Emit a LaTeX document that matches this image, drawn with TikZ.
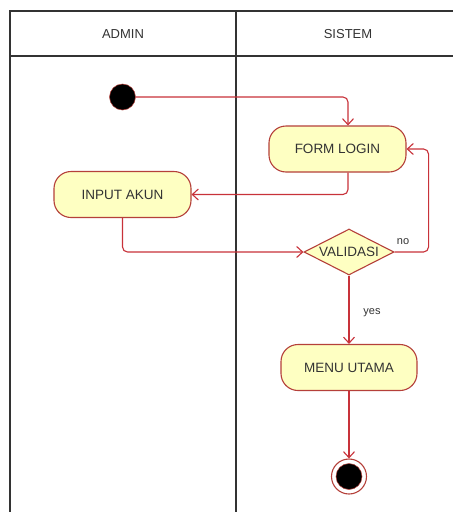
\documentclass[tikz,border=0pt]{standalone}
\usepackage{fontspec}
\setmainfont{Liberation Sans}
\usetikzlibrary{shapes.geometric,arrows.meta}
\definecolor{actfill}{HTML}{FEFFC2}
\definecolor{actline}{HTML}{B5403A}
\definecolor{flow}{HTML}{C8323A}
\definecolor{txt}{HTML}{333333}
\tikzset{
  act/.style={draw=actline, fill=actfill, rounded corners=17pt, line width=1.1pt,
    minimum height=46pt, inner sep=0pt, text=txt, font=\fontsize{13.5}{15}\selectfont},
  dec/.style={draw=actline, fill=actfill, diamond, line width=1.1pt, aspect=1.95,
    minimum width=90pt, minimum height=46pt, inner sep=0pt, text=txt, font=\fontsize{13.5}{15}\selectfont},
  flowline/.style={draw=flow, line width=1.1pt, rounded corners=5pt,
    -{Straight Barb[length=6pt,width=11pt,line width=1.1pt]}},
  lbl/.style={text=txt, font=\fontsize{11}{13}\selectfont},
  lane/.style={draw=black!80, line width=1.3pt},
  hdr/.style={text=txt, font=\fontsize{13}{15}\selectfont}
}
\begin{document}
\begin{tikzpicture}[x=1pt,y=-1pt]
\useasboundingbox (0,0) rectangle (453,512);
\fill[white] (0,0) rectangle (453,512);
% swimlanes
\draw[lane] (10,530) -- (10,11) -- (460,11);
\draw[lane] (10,56) -- (460,56);
\draw[lane] (236,11) -- (236,530);
\node[hdr] (hadmin) at (123,34) {ADMIN};
\node[hdr] (hsistem) at (348,34) {SISTEM};
% nodes
\node[circle, fill=black, draw=actline, line width=0.5pt, minimum size=26pt, inner sep=0pt] (start) at (122.5,97) {};
\node[act, minimum width=137pt] (form) at (337.5,149) {FORM LOGIN};
\node[act, minimum width=137pt] (input) at (122.5,194.5) {INPUT AKUN};
\node[dec] (val) at (349,252) {VALIDASI};
\node[act, minimum width=136pt] (menu) at (349,367.5) {MENU UTAMA};
\node[circle, draw=actline, fill=white, line width=1.1pt, minimum size=35pt, inner sep=0pt] (endo) at (349,476.5) {};
\node[circle, fill=black, draw=actline, line width=0.5pt, minimum size=26pt, inner sep=0pt] (endi) at (349,476.5) {};
% connectors
\draw[flowline] (start.east) -| (form.north -| 348,0);
\draw[flowline] (form.south -| 348,0) |- (input.east);
\draw[flowline] (input.south) |- (val.west);
\draw[flowline] (val.east) -- ++(34,0) |- (form.east);
\draw[flowline] (val.south) -- (menu.north);
\draw[flowline] (menu.south) -- (endo.north);
% labels
\node[lbl] (lno) at (403,242) {no};
\node[lbl] (lyes) at (372,313) {yes};
\end{tikzpicture}
\end{document}
